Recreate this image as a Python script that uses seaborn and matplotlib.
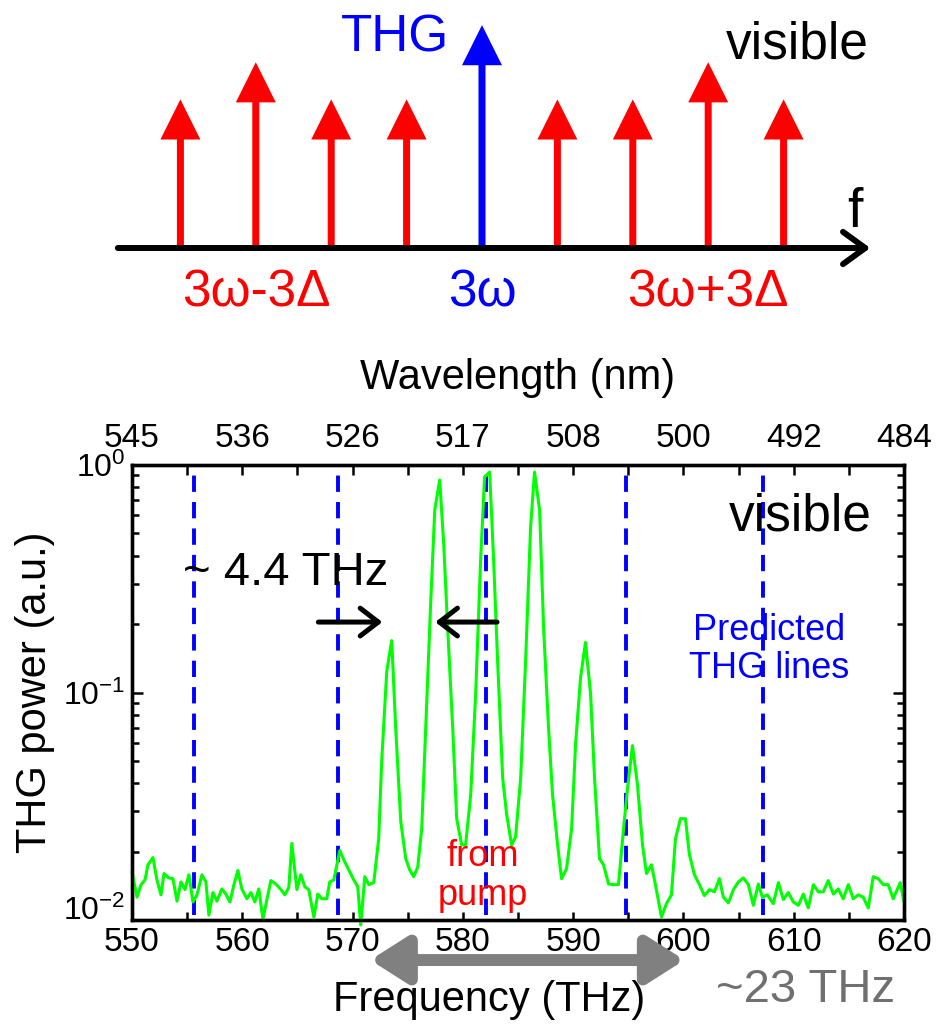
import matplotlib
matplotlib.use("Agg")
import matplotlib.pyplot as plt
import seaborn as sns
import pandas as pd

# ------------------------- data -------------------------
# frequency comb sketch (offsets in units of the comb spacing, relative heights)
comb_offset = [-4, -3, -2, -1, 0, 1, 2, 3, 4]
comb_height = [2.0, 2.5, 2.0, 2.0, 3.0, 2.0, 2.0, 2.5, 2.0]
comb_label_text = ["3ω-3Δ", "3ω", "3ω+3Δ"]
comb_label_at = [-3, 0, 3]
comb_label_color = ["#ff0000", "#0000ff", "#ff0000"]

# measured THG spectrum
freq_thz = [
    550.00, 550.45, 550.82, 551.18, 551.45, 551.90, 552.26, 552.63, 552.90, 553.35,
    553.71, 554.08, 554.44, 554.80, 555.16, 555.53, 555.89, 556.34, 556.70, 556.97,
    557.34, 557.70, 558.15, 558.51, 558.88, 559.24, 559.60, 559.96, 560.42, 560.78,
    561.14, 561.50, 561.87, 562.23, 562.59, 563.04, 563.50, 563.86, 564.22, 564.49,
    564.95, 565.31, 565.67, 566.03, 566.49, 566.85, 567.21, 567.66, 567.93, 568.30,
    568.84, 569.20, 569.66, 570.11, 570.47, 570.74, 571.11, 571.47, 571.92, 572.37,
    572.64, 573.10, 573.55, 573.91, 574.37, 574.82, 575.18, 575.54, 575.91, 576.27,
    576.63, 577.08, 577.45, 577.90, 578.26, 578.62, 579.08, 579.44, 579.89, 580.25,
    580.71, 581.16, 581.61, 581.97, 582.43, 582.79, 583.15, 583.61, 583.97, 584.42,
    584.78, 585.24, 585.69, 586.14, 586.50, 586.96, 587.32, 587.77, 588.13, 588.59,
    588.95, 589.40, 589.86, 590.22, 590.67, 591.12, 591.58, 591.94, 592.39, 592.75,
    593.21, 593.66, 594.11, 594.57, 594.93, 595.38, 595.83, 596.29, 596.65, 597.10,
    597.46, 598.01, 598.46, 598.91, 599.28, 599.73, 600.18, 600.54, 601.00, 601.45,
    601.90, 602.36, 602.81, 603.26, 603.62, 604.08, 604.53, 604.98, 605.43, 605.89,
    606.34, 606.79, 607.16, 607.61, 608.15, 608.61, 609.06, 609.51, 609.96, 610.42,
    610.87, 611.32, 611.78, 612.23, 612.68, 613.13, 613.59, 614.04, 614.49, 614.95,
    615.40, 615.85, 616.30, 616.76, 617.21, 617.66, 618.12, 618.57, 619.02, 619.66,
    620.00,
]
thg_power = [
    0.0163, 0.0126, 0.0143, 0.0150, 0.0175, 0.0188, 0.0150, 0.0129, 0.0160, 0.0153,
    0.0152, 0.0121, 0.0147, 0.0136, 0.0158, 0.0120, 0.0129, 0.0158, 0.0147, 0.0105,
    0.0132, 0.0121, 0.0137, 0.0130, 0.0120, 0.0143, 0.0165, 0.0137, 0.0124, 0.0132,
    0.0120, 0.0137, 0.0101, 0.0123, 0.0149, 0.0144, 0.0136, 0.0129, 0.0139, 0.0217,
    0.0136, 0.0158, 0.0140, 0.0136, 0.0103, 0.0130, 0.0124, 0.0124, 0.0147, 0.0150,
    0.0202, 0.0184, 0.0166, 0.0150, 0.0140, 0.0095, 0.0155, 0.0143, 0.0146, 0.0228,
    0.0499, 0.124, 0.169, 0.0697, 0.0271, 0.0186, 0.0166, 0.0155, 0.0171, 0.0252,
    0.0697, 0.246, 0.633, 0.859, 0.453, 0.193, 0.0697, 0.0279, 0.0214, 0.0214,
    0.0356, 0.0985, 0.381, 0.885, 0.931, 0.381, 0.138, 0.0420, 0.0291, 0.0214,
    0.0232, 0.0420, 0.138, 0.532, 0.931, 0.633, 0.193, 0.0697, 0.0356, 0.0214,
    0.0152, 0.0168, 0.0252, 0.0593, 0.116, 0.166, 0.0985, 0.0420, 0.0186, 0.0175,
    0.0144, 0.0143, 0.0143, 0.0252, 0.0379, 0.0584, 0.0394, 0.0214, 0.0160, 0.0175,
    0.0143, 0.0103, 0.0118, 0.0129, 0.0228, 0.0279, 0.0279, 0.0194, 0.0158, 0.0143,
    0.0128, 0.0136, 0.0133, 0.0152, 0.0126, 0.0119, 0.0136, 0.0147, 0.0153, 0.0143,
    0.0116, 0.0144, 0.0126, 0.0129, 0.0118, 0.0146, 0.0123, 0.0132, 0.0120, 0.0116,
    0.0130, 0.0113, 0.0143, 0.0133, 0.0133, 0.0149, 0.0130, 0.0137, 0.0124, 0.0143,
    0.0124, 0.0129, 0.0126, 0.0113, 0.0155, 0.0152, 0.0143, 0.0143, 0.0124, 0.0146,
    0.0120,
]

predicted_thg = [555.6, 568.7, 582.1, 594.8, 607.2]
freq_ticks = [550, 560, 570, 580, 590, 600, 610, 620]
freq_minor = [555, 565, 575, 585, 595, 605, 615]
wavelength_labels = ["545", "536", "526", "517", "508", "500", "492", "484"]

# ------------------------- figure -------------------------
sns.set_theme(style="ticks")
plt.rcParams["font.family"] = ["Liberation Sans", "DejaVu Sans"]
plt.rcParams.update({
    "text.color": "black",
    "axes.labelcolor": "black",
    "axes.edgecolor": "black",
    "xtick.color": "black",
    "ytick.color": "black",
})

W, H = 939, 1031
fig = plt.figure(figsize=(W / 100, H / 100), dpi=100)

# ---- comb sketch ----
top = fig.add_axes([0, 1 - 340 / H, 1, 340 / H])
top.set_xlim(-482 / 75.4, 457 / 75.4)
top.set_ylim(-92 / 74.3, 248 / 74.3)
top.axis("off")

for off, h in zip(comb_offset, comb_height):
    c = "#0000ff" if off == 0 else "#ff0000"
    top.arrow(off, 0, 0, h, width=0.093, head_width=0.53, head_length=0.54,
              length_includes_head=True, color=c, lw=0, zorder=2)

top.annotate("", xy=(5.15, 0), xytext=(-4.83, 0),
             arrowprops=dict(arrowstyle="->,head_length=0.8,head_width=0.58",
                             lw=4.3, color="black", shrinkA=0, shrinkB=0,
                             mutation_scale=20), zorder=3)

for txt, pos, c in zip(comb_label_text, comb_label_at, comb_label_color):
    top.text(pos, -0.606, txt, color=c, fontsize=37, ha="center", va="center")

top.text(-1.15, 2.83, "THG", color="#0000ff", fontsize=37, ha="center", va="center")
top.text(4.18, 2.73, "visible", color="black", fontsize=37, ha="center", va="center")
top.text(4.95, 0.47, "f", color="black", fontsize=40, ha="center", va="center")

# ---- spectrum ----
ax = fig.add_axes([132 / W, 1 - 920 / H, 772 / W, 455 / H])
ax.set_yscale("log")
df = pd.DataFrame({"freq": freq_thz, "power": thg_power})
sns.lineplot(data=df, x="freq", y="power", ax=ax, color="#00ff00", lw=2.2,
             clip_on=False, zorder=3)

for f in predicted_thg:
    ax.axvline(f, ymin=0.01, ymax=0.995, color="#0000ff", lw=2.8,
               ls=(0, (4.2, 2.6)), zorder=2)

ax.set_xlim(550, 620)
ax.set_ylim(1e-2, 1)
ax.set_xticks(freq_ticks)
ax.set_xticks(freq_minor, minor=True)
ax.tick_params(axis="x", which="both", direction="in", length=6, width=1.8,
               labelsize=24, pad=5)
ax.tick_params(axis="y", which="both", direction="in", right=True, width=1.8,
               labelsize=23, pad=5)
ax.tick_params(axis="y", which="major", length=8)
ax.tick_params(axis="y", which="minor", length=5)
for s in ax.spines.values():
    s.set_linewidth(2.4)

ax.set_xlabel("Frequency (THz)", fontsize=30, va="center")
ax.xaxis.set_label_coords(0.462, -0.176)
ax.set_ylabel("THG power (a.u.)", fontsize=30, va="center")
ax.yaxis.set_label_coords(-0.126, 0.5)

ax2 = ax.twiny()
ax2.set_xlim(550, 620)
ax2.set_xticks(freq_ticks)
ax2.set_xticklabels(wavelength_labels)
ax2.set_xticks(freq_minor, minor=True)
ax2.tick_params(axis="x", which="both", direction="in", length=7, width=1.8,
                labelsize=24, pad=8)
for s in ax2.spines.values():
    s.set_linewidth(2.4)
ax2.set_xlabel("Wavelength (nm)", fontsize=30, va="center")
ax2.xaxis.set_label_coords(0.5, 1.191)

# annotations
ax.text(610.6, 0.59, "visible", fontsize=37, ha="center", va="center")
ax.text(563.9, 0.335, "~ 4.4 THz", fontsize=34, ha="center", va="center")
ax.text(607.8, 0.154, "Predicted\nTHG lines", color="#0000ff", fontsize=26,
        ha="center", va="center", linespacing=1.1)
ax.text(581.8, 0.0156, "from\npump", color="#ff0000", fontsize=26,
        ha="center", va="center", linespacing=1.15)

head = "->,head_length=0.65,head_width=0.5"
ax.annotate("", xy=(572.7, 0.204), xytext=(566.9, 0.204),
            arrowprops=dict(arrowstyle=head, lw=3.6, color="black",
                            shrinkA=0, shrinkB=0, mutation_scale=20))
ax.annotate("", xy=(577.5, 0.204), xytext=(583.1, 0.204),
            arrowprops=dict(arrowstyle=head, lw=3.6, color="black",
                            shrinkA=0, shrinkB=0, mutation_scale=20))

ax.annotate("", xy=(600.1, -0.088), xytext=(571.6, -0.088),
            xycoords=("data", "axes fraction"), textcoords=("data", "axes fraction"),
            annotation_clip=False,
            arrowprops=dict(arrowstyle="<|-|>,head_length=1.1,head_width=0.7",
                            lw=8.6, color="#808080", shrinkA=0, shrinkB=0,
                            mutation_scale=20))
ax.text(0.872, -0.154, "~23 THz", transform=ax.transAxes, color="#707070",
        fontsize=34, ha="center", va="center")

# lift the lowest decade label so it clears the 550 label
fig.canvas.draw()
for tick in ax.yaxis.get_major_ticks():
    loc = tick.get_loc()
    if loc is not None and abs(loc - 1e-2) < 1e-9:
        tick.label1.set_va("baseline")

fig.savefig("out.png", dpi=100)
